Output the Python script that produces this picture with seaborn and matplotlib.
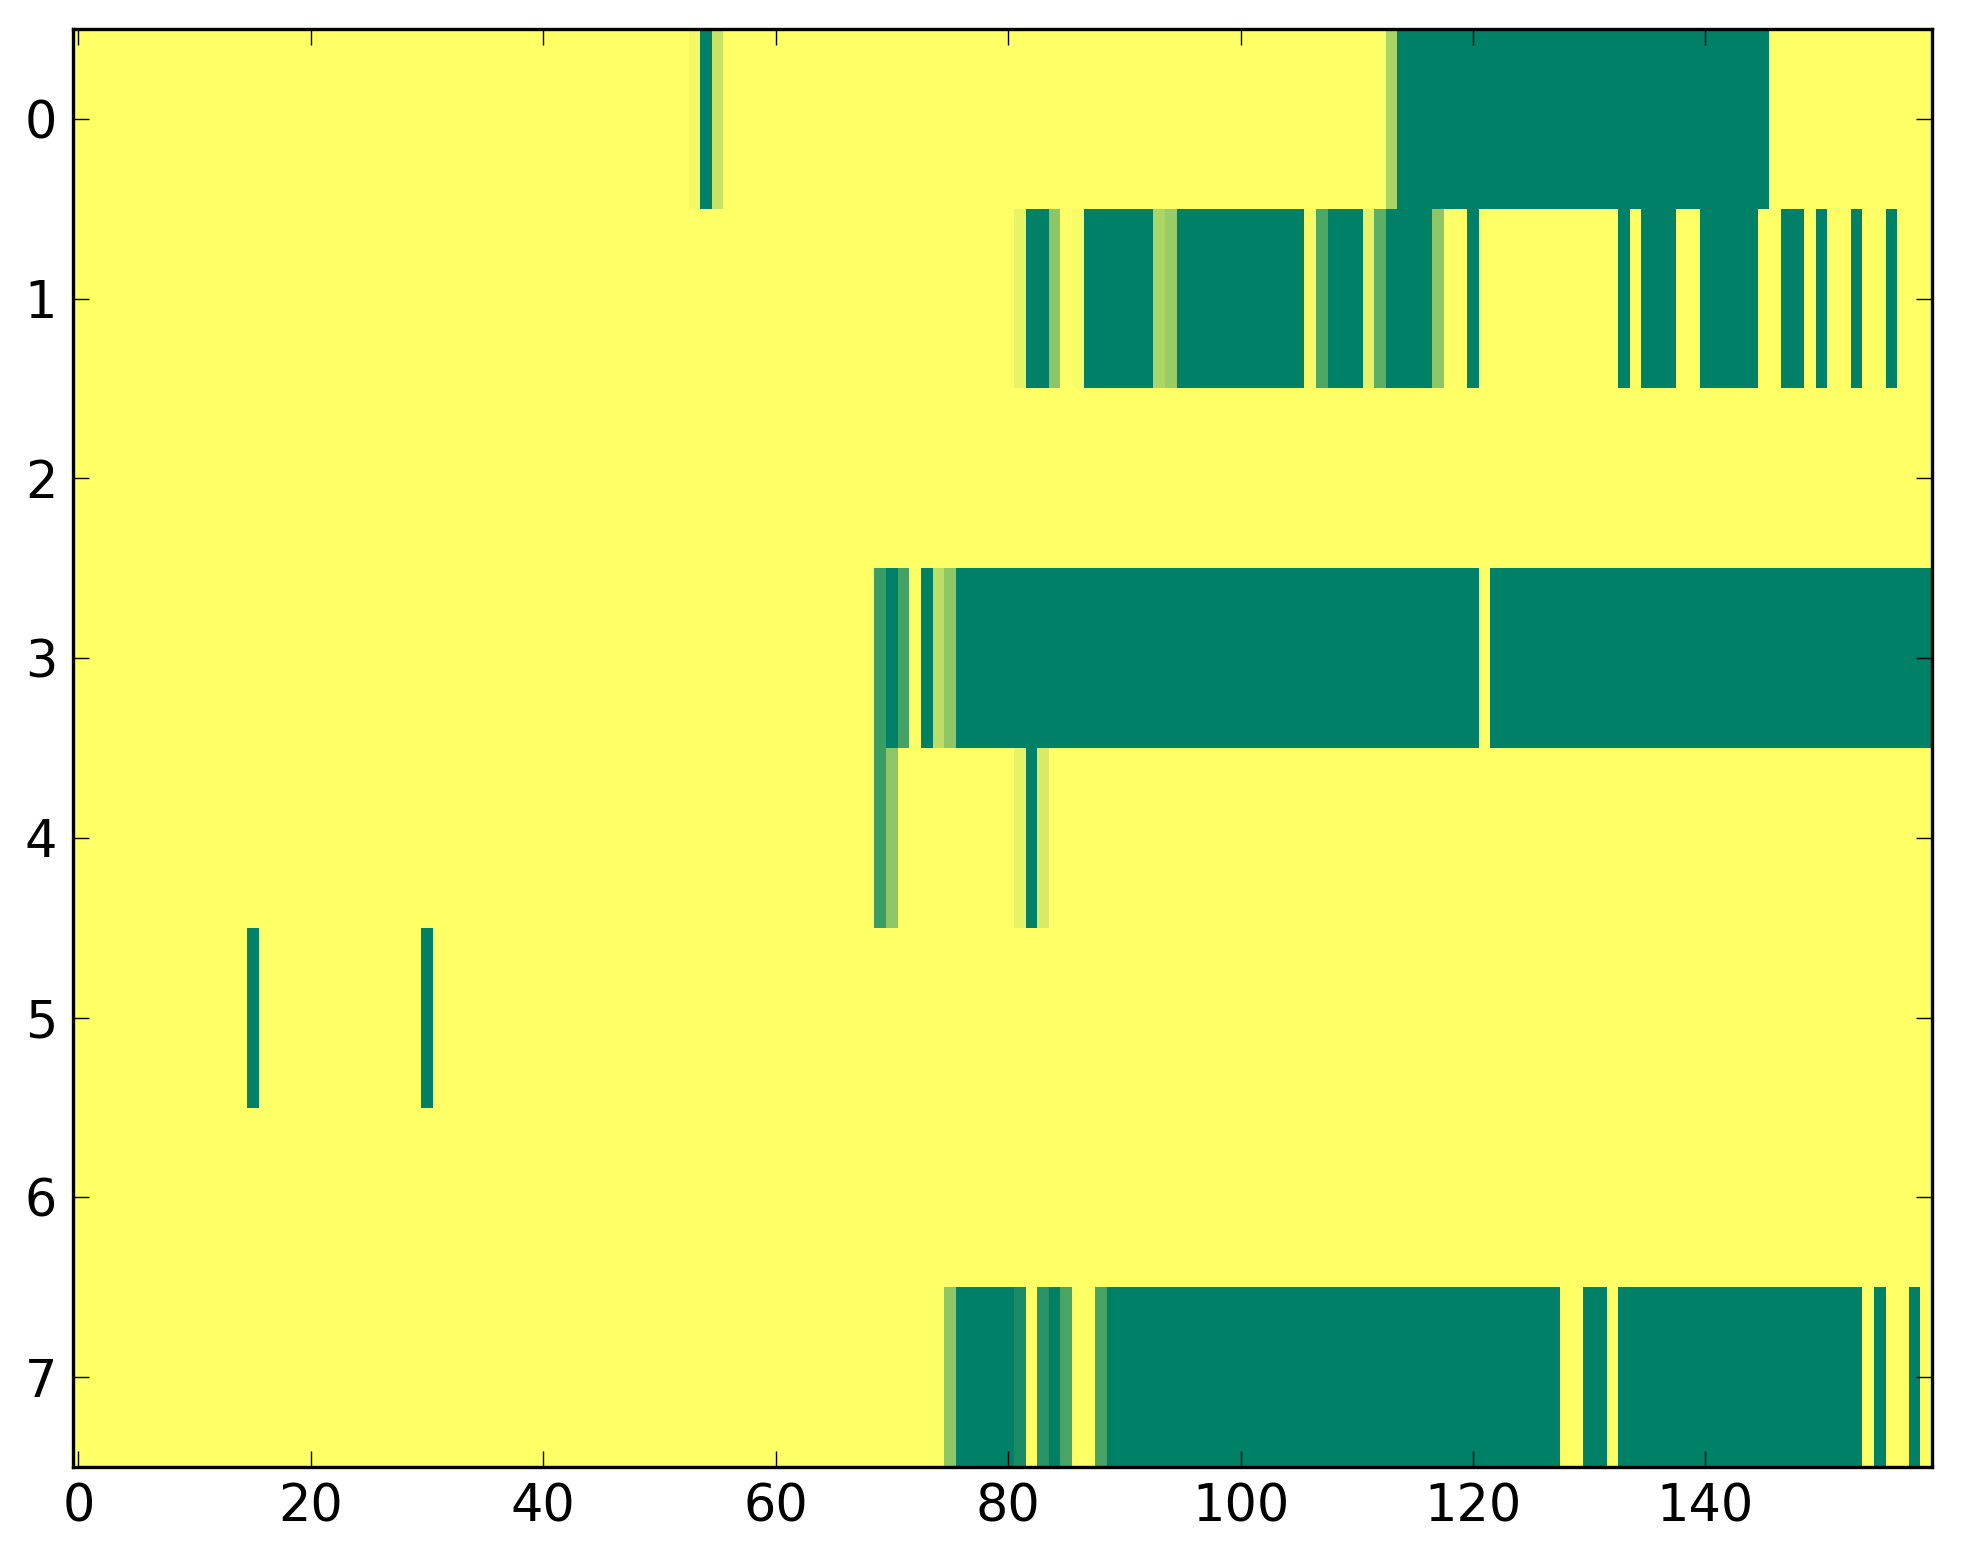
import numpy as np
import pandas as pd
import matplotlib
matplotlib.use("Agg")
import matplotlib.pyplot as plt
import seaborn as sns

# ── data: runs of (first column, last column, value) per row, rest is 0 ──
N_COLS = 160
row0 = [(53, 53, 0.05), (54, 54, 1.0), (55, 55, 0.22), (113, 113, 0.34), (114, 145, 1.0)]
row1 = [(81, 81, 0.09), (82, 83, 1.0), (84, 84, 0.45), (86, 86, 0.03), (87, 92, 1.0),
        (93, 93, 0.33), (94, 94, 0.40), (95, 105, 1.0), (106, 106, 0.04), (107, 107, 0.69),
        (108, 110, 1.0), (111, 111, 0.10), (112, 112, 0.63), (113, 116, 1.0), (117, 117, 0.45),
        (120, 120, 1.0), (133, 133, 1.0), (135, 137, 1.0), (140, 144, 1.0), (147, 148, 1.0),
        (150, 150, 1.0), (153, 153, 1.0), (156, 156, 1.0)]
row2 = []
row3 = [(69, 69, 0.77), (70, 70, 1.0), (71, 71, 0.73), (73, 73, 1.0), (74, 74, 0.26),
        (75, 75, 0.44), (76, 120, 1.0), (122, 159, 1.0)]
row4 = [(69, 69, 0.77), (70, 70, 0.45), (81, 81, 0.10), (82, 82, 1.0), (83, 83, 0.16)]
row5 = [(15, 15, 1.0), (30, 30, 1.0)]
row6 = []
row7 = [(75, 75, 0.44), (76, 80, 1.0), (81, 81, 0.90), (83, 83, 0.84), (84, 84, 1.0),
        (85, 85, 0.71), (88, 88, 0.72), (89, 127, 1.0), (130, 131, 1.0), (133, 153, 1.0),
        (155, 155, 1.0), (158, 158, 1.0)]
rows = [row0, row1, row2, row3, row4, row5, row6, row7]

x_ticks = [0, 20, 40, 60, 80, 100, 120, 140]
y_ticks = [0, 1, 2, 3, 4, 5, 6, 7]

mat = np.zeros((len(rows), N_COLS))
for r, runs in enumerate(rows):
    for a, b, v in runs:
        mat[r, a:b + 1] = v
df = pd.DataFrame(mat)

# ── plot ────────────────────────────────────────────────────
fig = plt.figure(figsize=(9.815, 7.82), dpi=200)
ax = fig.add_axes([0.037, 0.062, 0.9472, 0.9195])

sns.heatmap(df, cmap="summer_r", vmin=0, vmax=1, cbar=False, ax=ax,
            xticklabels=False, yticklabels=False, linewidths=0, rasterized=False)

ax.set_xticks([t + 0.5 for t in x_ticks])
ax.set_xticklabels([str(t) for t in x_ticks], rotation=0)
ax.set_yticks([t + 0.5 for t in y_ticks])
ax.set_yticklabels([str(t) for t in y_ticks], rotation=0)
ax.set_xlabel("")
ax.set_ylabel("")

for s in ax.spines.values():
    s.set_visible(True)
    s.set_linewidth(1.2)
    s.set_color("black")

ax.tick_params(direction="in", top=True, right=True, length=5.8, width=0.5,
               pad=5.5, labelsize=18.3, color="black")

fig.savefig("out.png", dpi=200)
